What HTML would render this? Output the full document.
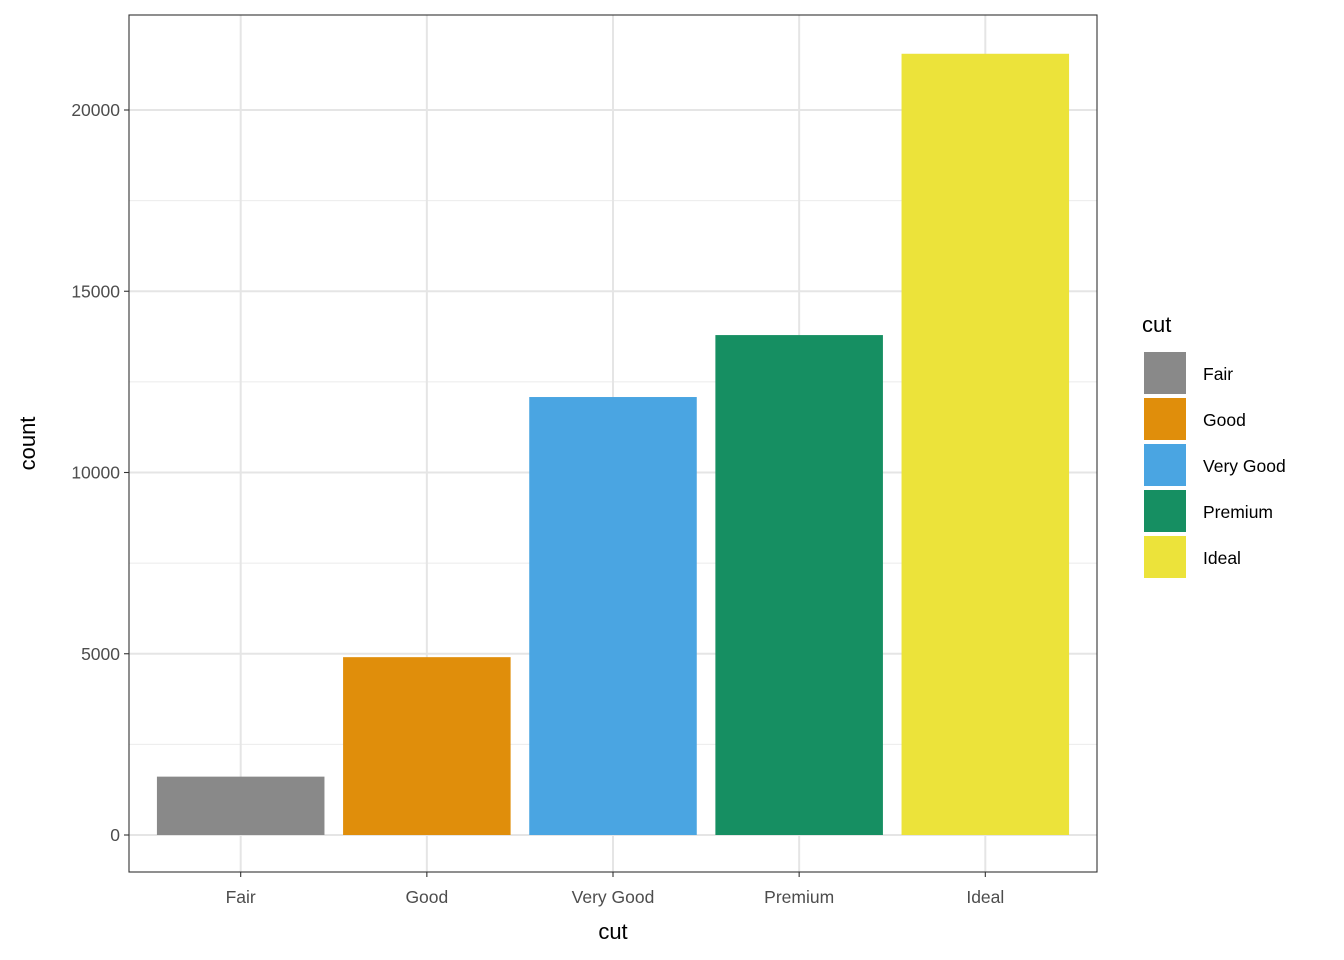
<!DOCTYPE html>
<html><head><meta charset="utf-8">
<style>
html,body{margin:0;padding:0;background:#fff;}
svg{display:block;font-family:"Liberation Sans",Arial,sans-serif;}
</style></head>
<body>
<svg id="chart" width="1344" height="960"></svg>
<script>
const categories = ["Fair","Good","Very Good","Premium","Ideal"];
const counts = [1610, 4906, 12082, 13791, 21551];
const colors = ["#898989","#E08E0B","#4AA5E2","#168F62","#ECE33A"];
const yTicks = [0, 5000, 10000, 15000, 20000];
const yMinor = [2500, 7500, 12500, 17500];

const NS = "http://www.w3.org/2000/svg";
const svg = document.getElementById("chart");
const P = {l:129, r:1097, t:15, b:872};
function y(v){ return 835 - v * (725/20000); }
const step = (P.r - P.l) / (categories.length + 0.2);
function x(i){ return P.l + step * (0.6 + i); }
function mk(tag, attrs, parent){
  const e = document.createElementNS(NS, tag);
  for (const k in attrs) e.setAttribute(k, attrs[k]);
  (parent||svg).appendChild(e);
  return e;
}

const grid = mk("g", {});


yMinor.forEach(v => mk("line", {x1:P.l, x2:P.r, y1:y(v), y2:y(v), stroke:"#ebebeb", "stroke-width":1}, grid));
yTicks.forEach(v => mk("line", {x1:P.l, x2:P.r, y1:y(v), y2:y(v), stroke:"#e5e5e5", "stroke-width":2}, grid));
categories.forEach((c,i) => mk("line", {x1:x(i), x2:x(i), y1:P.t, y2:P.b, stroke:"#e5e5e5", "stroke-width":2}, grid));

const bw = step * 0.9;
counts.forEach((v,i) => {
  const r = mk("rect", {x:x(i)-bw/2, y:y(v), width:bw, height:y(0)-y(v), fill:colors[i]});
  
  
});

const border = mk("rect", {x:P.l, y:P.t, width:P.r-P.l, height:P.b-P.t, fill:"none", stroke:"#333", "stroke-width":1.1});



yTicks.forEach(v => {
  mk("line", {x1:P.l-5, x2:P.l, y1:y(v), y2:y(v), stroke:"#333", "stroke-width":1.1});
  const t = mk("text", {x:P.l-9, y:y(v)+6, "text-anchor":"end", "font-size":"17.5", fill:"#4d4d4d"});
  t.textContent = v;
  
  
});
categories.forEach((c,i) => {
  mk("line", {x1:x(i), x2:x(i), y1:P.b, y2:P.b+5, stroke:"#333", "stroke-width":1.1});
  const t = mk("text", {x:x(i), y:P.b+31, "text-anchor":"middle", "font-size":"17.5", fill:"#4d4d4d"});
  t.textContent = c;
  
  
});

const xt = mk("text", {x:(P.l+P.r)/2, y:939, "text-anchor":"middle", "font-size":"22", fill:"#000"});
xt.textContent = "cut";


const yt = mk("text", {x:0, y:0, "text-anchor":"middle", "font-size":"22", fill:"#000", transform:"translate(35,"+((P.t+P.b)/2)+") rotate(-90)"});
yt.textContent = "count";



const lg = mk("g", {});


const lt = mk("text", {x:1142, y:332, "font-size":"22", fill:"#000"}, lg);
lt.textContent = "cut";


categories.forEach((c,i) => {
  const yy = 352 + i*46;
  const k = mk("rect", {x:1144, y:yy, width:42, height:42, fill:colors[i]}, lg);
  
  
  const t = mk("text", {x:1203, y:yy+28, "font-size":"17.5", fill:"#000"}, lg);
  t.textContent = c;
  
  
});
</script>
</body></html>
